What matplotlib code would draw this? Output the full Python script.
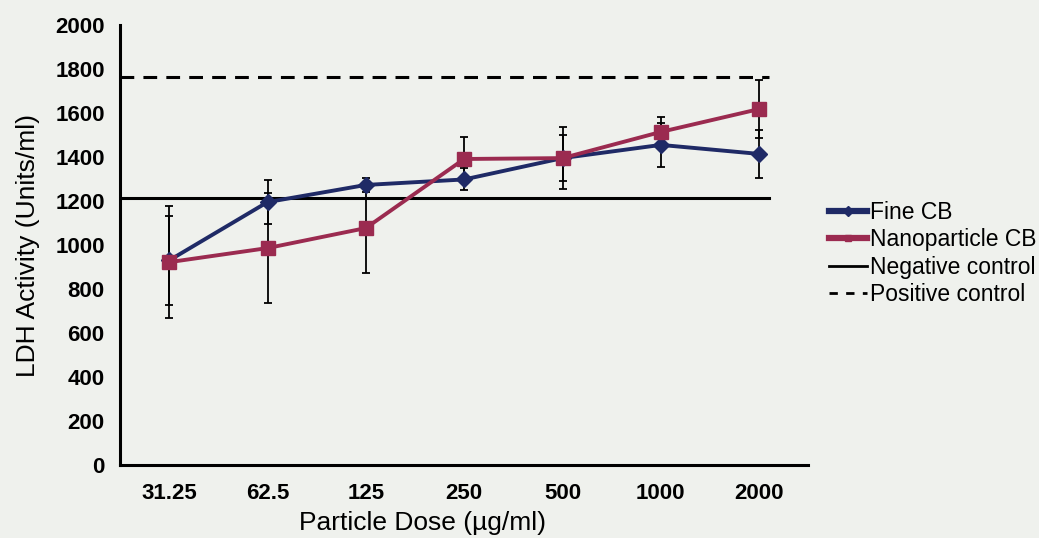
import matplotlib.pyplot as plt
from matplotlib.lines import Line2D

plt.rcParams['font.family'] = ['Liberation Sans', 'DejaVu Sans']

# Дані
doses = ['31.25', '62.5', '125', '250', '500', '1000', '2000']
fine_cb = [930, 1195, 1273, 1298, 1395, 1455, 1414]
fine_err = [203, 100, 30, 50, 140, 100, 110]
nano_cb = [922, 986, 1077, 1391, 1395, 1514, 1618]
nano_err = [256, 250, 204, 100, 105, 68, 132]
negative_control = 1214
positive_control = 1764
control_span = [-0.5, 6.1]

bg = '#eff1ed'
navy = '#1f2a66'
crimson = '#9b2b50'

fig = plt.figure(figsize=(10.39, 5.38), dpi=100, facecolor=bg)
ax = fig.add_axes([0.1155, 0.1357, 0.6625, 0.8178], facecolor=bg)

x = list(range(len(doses)))

ax.plot(control_span, [negative_control] * 2, color='black', lw=2.2, zorder=1)
ax.plot(control_span, [positive_control] * 2, color='black', lw=2.2,
        dashes=(4.5, 3), zorder=1)

ax.errorbar(x, fine_cb, yerr=fine_err, fmt='none', ecolor='black',
            elinewidth=1.3, capsize=3, capthick=1.3, zorder=2)
ax.errorbar(x, nano_cb, yerr=nano_err, fmt='none', ecolor='black',
            elinewidth=1.3, capsize=3, capthick=1.3, zorder=2)

ax.plot(x, fine_cb, color=navy, lw=2.8, marker='D', markersize=8, zorder=3)
ax.plot(x, nano_cb, color=crimson, lw=2.8, marker='s', markersize=9.5, zorder=4)

ax.set_xlim(-0.5, 6.5)
ax.set_ylim(0, 2000)
ax.set_yticks(range(0, 2001, 200))
ax.set_xticks(x)
ax.set_xticklabels(doses)
ax.tick_params(length=0, labelsize=16)
ax.tick_params(axis='y', pad=11)
ax.tick_params(axis='x', pad=13)
for lbl in ax.get_xticklabels() + ax.get_yticklabels():
    lbl.set_fontweight('bold')

for side in ['top', 'right']:
    ax.spines[side].set_visible(False)
for side in ['left', 'bottom']:
    ax.spines[side].set_linewidth(2.2)

ax.set_xlabel('Particle Dose (\u00b5g/ml)', fontsize=19, labelpad=5, x=0.44)
ax.set_ylabel('LDH Activity (Units/ml)', fontsize=19, labelpad=11)

handles = [
    Line2D([], [], color=navy, lw=4.5, marker='D', markersize=5),
    Line2D([], [], color=crimson, lw=4.5, marker='s', markersize=5),
    Line2D([], [], color='black', lw=2),
    Line2D([], [], color='black', lw=2, dashes=(3, 3)),
]
labels = ['Fine CB', 'Nanoparticle CB', 'Negative control', 'Positive control']
fig.legend(handles, labels, loc='center left', bbox_to_anchor=(0.798, 0.529),
           frameon=False, fontsize=16.5, handlelength=1.65, handletextpad=0.15,
           labelspacing=0.2, borderaxespad=0, borderpad=0)

fig.savefig('out.png', dpi=100, facecolor=bg)
